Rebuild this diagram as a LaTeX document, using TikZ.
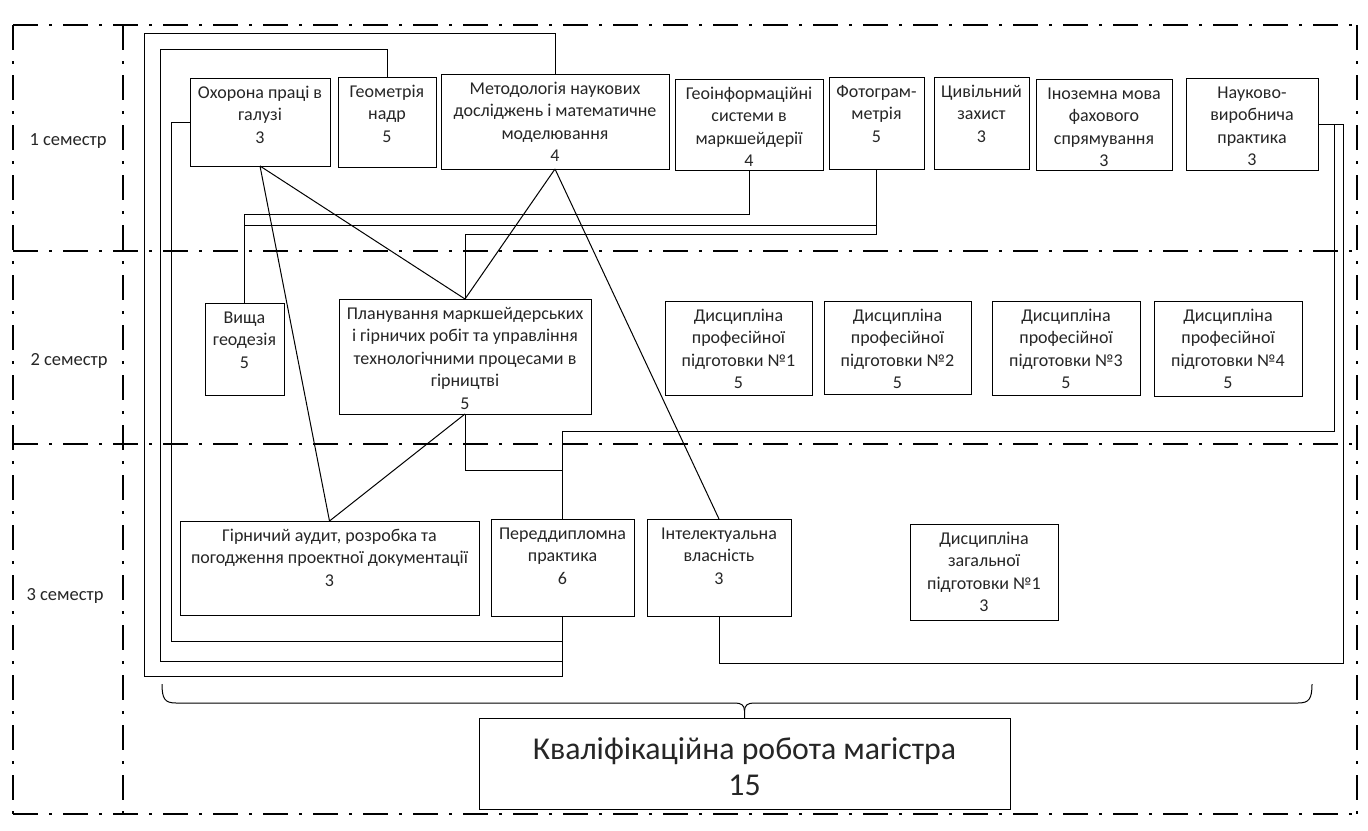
\documentclass[tikz,border=0pt]{standalone}
\usepackage{fontspec}
\setmainfont{Carlito}
\newcommand\mybox[6]{%
  \node[box,anchor=north west] (#1) at (#2,#3)
    {\parbox[c][\dimexpr #5pt-#3pt\relax][t]{\dimexpr #4pt-#2pt\relax}{\centering\vspace*{4.5pt}\strut #6}};}
\begin{document}
\begin{tikzpicture}[x=1pt,y=-1pt,
  box/.style={draw=black, line width=1pt, inner sep=0pt, outer sep=0pt,
    text=black!85, font=\fontsize{18}{22.5}\selectfont},
  c/.style={line width=1pt, line join=miter},
  fr/.style={line width=2.2pt, dash pattern=on 25pt off 11pt on 3pt off 11pt},
  sem/.style={text=black!85, font=\fontsize{18.5}{22}\selectfont}]
\useasboundingbox (0,0) rectangle (1368,830);
\fill[white] (0,0) rectangle (1368,830);

% frame
\draw[fr] (13,25) -- (1357,25);
\draw[fr] (13,814) -- (1357,814);
\draw[fr] (13,25) -- (13,814);
\draw[fr] (1357,25) -- (1357,814);
\draw[fr] (123,25) -- (123,814);
\draw[fr] (13,251) -- (1357,251);
\draw[fr] (13,444) -- (1357,444);

\node[sem] (s1) at (68,141) {1 семестр};
\node[sem] (s2) at (69,361) {2 семестр};
\node[sem] (s3) at (65,596) {3 семестр};

% semester 1
\mybox{ohor}{190}{78}{330}{166}{Охорона праці в\\галузі\\3}
\mybox{geom}{338}{77}{436}{167}{Геометрія\\надр\\5}
\mybox{meth}{441}{74}{669}{169}{Методологія наукових\\досліджень і математичне\\моделювання\\4}
\mybox{geoinf}{675}{79}{823}{170}{Геоінформаційні\\системи в\\маркшейдерії\\4}
\mybox{foto}{829}{77}{924}{169}{Фотограм-\\метрія\\5}
\mybox{civ}{934}{77}{1029}{169}{Цивільний\\захист\\3}
\mybox{inoz}{1036}{79}{1172}{170}{Іноземна мова\\фахового\\спрямування\\3}
\mybox{nauk}{1186}{78}{1318}{170}{Науково-\\виробнича\\практика\\3}

% semester 2
\mybox{vyshch}{205}{303}{284}{395}{Вища\\геодезія\\5}
\mybox{plan}{339}{299}{591}{414}{Планування маркшейдерських\\і гірничих робіт та управління\\технологічними процесами в\\гірництві\\5}
\mybox{dA}{665}{301}{812}{395}{Дисципліна\\професійної\\підготовки №1\\5}
\mybox{dB}{824}{301}{971}{394}{Дисципліна\\професійної\\підготовки №2\\5}
\mybox{dC}{992}{301}{1140}{395}{Дисципліна\\професійної\\підготовки №3\\5}
\mybox{dD}{1154}{301}{1302}{396}{Дисципліна\\професійної\\підготовки №4\\5}

% semester 3
\mybox{girn}{180}{521}{479}{615}{Гірничий аудит, розробка та\\погодження проектної документації\\3}
\mybox{peredd}{491}{519}{634}{616}{Переддипломна\\практика\\6}
\mybox{intel}{647}{519}{791}{616}{Інтелектуальна\\власність\\3}
\mybox{zag}{910}{524}{1058}{620}{Дисципліна\\загальної\\підготовки №1\\3}

% final
\node[box, anchor=north west, font=\fontsize{31.8}{36}\selectfont] (kval) at (479,718)
  {\parbox[c][91pt][t]{531pt}{\centering\vspace*{16pt}\strut Кваліфікаційна робота магістра\\15}};

% connectors
\draw[c] (meth.north) |- (144,33) -- (144,676) -| (peredd.south);
\draw[c] (geom.north) |- (160,49) -- (160,661) -| (peredd.south);
\draw[c] (ohor.west) -| (171,641) -| (peredd.south);

\draw[c] (geoinf.south) -- ++(0,44) -| (vyshch.north);
\draw[c] (foto.south) -- ++(0,56) -| (vyshch.north);
\draw[c] (foto.south) -- ++(0,65) -| (plan.north);

\draw[c] (ohor.south) -- (plan.north);
\draw[c] (ohor.south) -- (girn.north);
\draw[c] (meth.south) -- (plan.north);
\draw[c] (meth.south) -- (intel.north);
\draw[c] (plan.south) -- (girn.north);

\draw[c] (plan.south) -- ++(0,56) -| (peredd.north);
\draw[c] (nauk.east) -| (1334,431) -| (peredd.north);
\draw[c] (nauk.east) -| (1343,663) -| (intel.south);

% brace
\coordinate (brL) at (162,684);
\coordinate (brR) at (1312,684);
\coordinate (brC) at (744.5,711);
\draw[c] (brL) .. controls (162,699) and (165,703) .. (176,703) -- (735,703)
  .. controls (741,703) and (744.5,705) .. (brC) -- (kval.north);
\draw[c] (brR) .. controls (1312,699) and (1309,703) .. (1298,703) -- (754,703)
  .. controls (748,703) and (744.5,705) .. (brC);
\end{tikzpicture}
\end{document}
